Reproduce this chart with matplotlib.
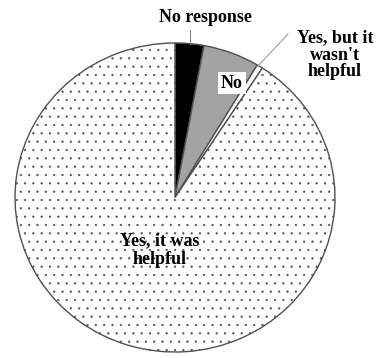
import matplotlib
matplotlib.use("Agg")
import matplotlib.pyplot as plt

labels = ["No response", "No", "Yes, but it\nwasn't\nhelpful", "Yes, it was\nhelpful"]
shares = [2.9, 5.7, 0.6, 90.8]
colors = ["black", "#a3a3a3", "white", "white"]
hatches = [None, None, None, ".."]

plt.rcParams["font.family"] = ["Liberation Serif", "DejaVu Serif"]
plt.rcParams["hatch.color"] = "#bdbdbd"
plt.rcParams["hatch.linewidth"] = 0.4

fig = plt.figure(figsize=(3.82, 3.58), dpi=100)
# axes placed so the pie spans x 15..335, y 43..352 px
ax = fig.add_axes([15 / 382, 6 / 358, 320 / 382, 309 / 358])
wedges, _ = ax.pie(shares, colors=colors, startangle=90, counterclock=False,
                   wedgeprops=dict(edgecolor="#505050", linewidth=1.0))
for w, h in zip(wedges, hatches):
    if h:
        w.set_hatch(h)
ax.set_aspect("auto")
ax.set_xlim(-1, 1)
ax.set_ylim(-1, 1)
ax.axis("off")

bold = dict(fontsize=13, fontweight="bold", ha="center", va="center")
fig.text(205 / 382, 1 - 18 / 358, labels[0], **bold)
fig.text(232 / 382, 1 - 83 / 358, labels[1],
         bbox=dict(facecolor="white", edgecolor="none", pad=2), **bold)
fig.text(335 / 382, 1 - 55 / 358, labels[2], linespacing=1.0, **bold)
fig.text(160 / 382, 1 - 250 / 358, labels[3], linespacing=1.1, **bold)

# leader lines
fig.add_artist(plt.Line2D([190 / 382, 190 / 382], [1 - 30 / 358, 1 - 44 / 358],
                          color="#808080", lw=0.8))
fig.add_artist(plt.Line2D([288 / 382, 258 / 382], [1 - 34 / 358, 1 - 66 / 358],
                          color="#a0a0a0", lw=0.8))

fig.savefig("out.png", dpi=100)
